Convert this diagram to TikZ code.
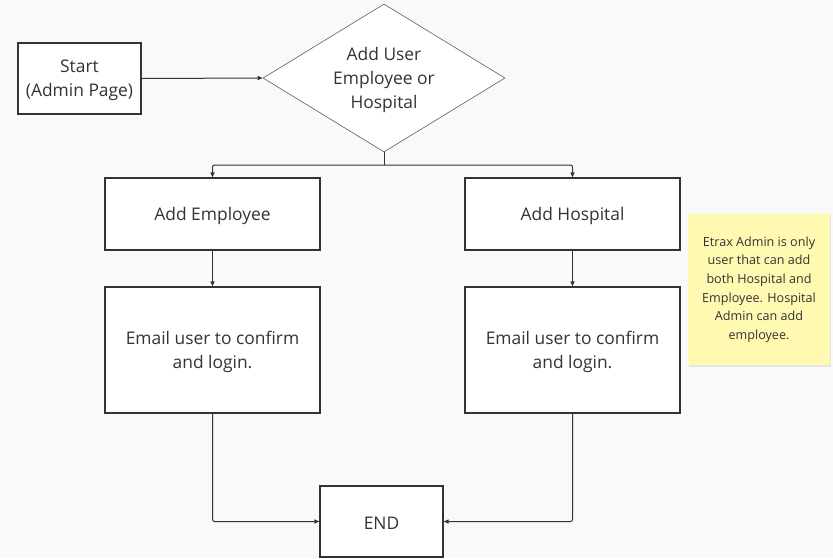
\documentclass[tikz,border=0pt]{standalone}
\usepackage{fontspec}
\setmainfont{Open Sans}
\usetikzlibrary{arrows.meta,shapes.geometric,shadows}
\definecolor{bg}{HTML}{F9F9F9}
\definecolor{ink}{HTML}{333333}
\definecolor{txt}{HTML}{333333}
\definecolor{sticky}{HTML}{FFF9B1}
\tikzset{
  box/.style={draw=ink, line width=1.2pt, fill=white, inner sep=0pt},
  lab/.style={align=center, inner sep=0pt, text=txt, yshift=-2pt,
    font=\fontsize{17.4}{24}\selectfont},
  flow/.style={draw=ink, line width=1pt, rounded corners=2pt,
    -{Triangle[length=5pt,width=4pt]}},
  note/.style={fill=sticky, inner sep=0pt, align=center, text=txt,
    font=\fontsize{12.6}{18.6}\selectfont,
    drop shadow={shadow xshift=1pt, shadow yshift=-2pt, opacity=0.15}}
}
\begin{document}
\begin{tikzpicture}[x=1pt, y=-1pt]
  \fill[bg] (0,0) rectangle (833,558);
  \useasboundingbox (0,0) rectangle (833,558);

  % process boxes and the decision
  \node[box, minimum width=123pt, minimum height=71pt] (start) at (79.5,78.5) {};
  \node[box, diamond, draw=ink!80, line width=0.6pt, minimum width=242pt, minimum height=148pt,
    aspect=1.64] (choice) at (384,78) {};
  \node[box, minimum width=215pt, minimum height=72pt] (emp) at (212.5,214) {};
  \node[box, minimum width=215pt, minimum height=72pt] (hos) at (572.5,214) {};
  \node[box, minimum width=215pt, minimum height=126pt] (mailA) at (212.5,350) {};
  \node[box, minimum width=215pt, minimum height=126pt] (mailB) at (572.5,350) {};
  \node[box, minimum width=123pt, minimum height=71pt] (end) at (381.5,521.5) {};

  % their texts
  \node[lab] (startT) at (start.center) {Start\\(Admin Page)};
  \node[lab] (choiceT) at (choice.center) {Add User\\Employee or\\Hospital};
  \node[lab] (empT) at (emp.center) {Add Employee};
  \node[lab] (hosT) at (hos.center) {Add Hospital};
  \node[lab] (mailAT) at (mailA.center) {Email user to confirm\\and login.};
  \node[lab] (mailBT) at (mailB.center) {Email user to confirm\\and login.};
  \node[lab] (endT) at (end.center) {END};

  % sticky note
  \node[note, minimum width=142pt, minimum height=151pt] (memo) at (759,289.5)
    {Etrax Admin is only\\user that can add\\both Hospital and\\Employee. Hospital\\Admin can add\\employee.};

  \coordinate (split) at (384,165);

  \draw[flow] (start.east) -- (choice.west);
  \draw[draw=ink, line width=1pt] (choice.south) -- (split);
  \draw[flow] (split) -| (emp.north);
  \draw[flow] (split) -| (hos.north);
  \draw[flow] (emp.south) -- (mailA.north);
  \draw[flow] (hos.south) -- (mailB.north);
  \draw[flow] (mailA.south) |- (end.west);
  \draw[flow] (mailB.south) |- (end.east);
\end{tikzpicture}
\end{document}
